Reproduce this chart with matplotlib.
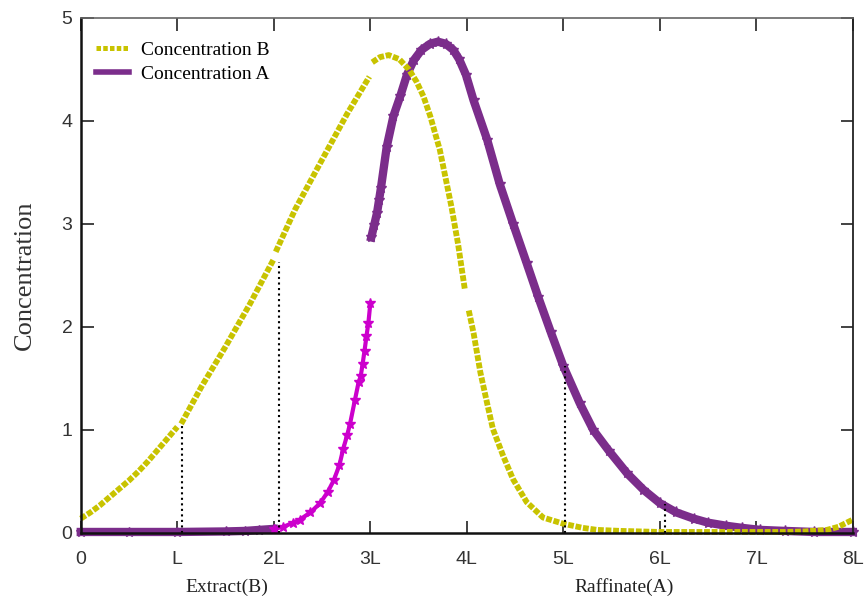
import matplotlib.pyplot as plt
from matplotlib.lines import Line2D
import numpy as np

# couleurs
col_b = '#C8C300'
col_a = '#7B2D8B'
col_mag = '#CC00CC'

# Concentration B : segments separes aux frontieres de zones
b_x1 = [0.0, 0.1, 0.2, 0.3, 0.4, 0.5, 0.6, 0.7, 0.8, 0.9, 1.0]
b_y1 = [0.14, 0.2, 0.27, 0.35, 0.43, 0.51, 0.6, 0.7, 0.81, 0.92, 1.03]
b_x2 = [1.04, 1.25, 1.5, 1.75, 2.0]
b_y2 = [1.06, 1.42, 1.81, 2.22, 2.66]
b_x3 = [2.02, 2.22, 2.48, 2.76, 2.99]
b_y3 = [2.73, 3.14, 3.59, 4.07, 4.43]
b_x4 = [3.02, 3.1, 3.19, 3.3, 3.4, 3.48, 3.55, 3.62, 3.72, 3.84, 3.91, 3.98]
b_y4 = [4.57, 4.62, 4.64, 4.6, 4.5, 4.38, 4.24, 4.05, 3.72, 3.17, 2.8, 2.36]
b_x5 = [4.02, 4.07, 4.14, 4.21, 4.27, 4.38, 4.48, 4.62, 4.79, 5.0, 5.2, 5.35,
        5.6, 6.0, 6.5, 7.0, 7.3, 7.5, 7.73, 7.85, 8.0]
b_y5 = [2.16, 1.94, 1.56, 1.26, 1.01, 0.74, 0.52, 0.3, 0.15, 0.09, 0.05, 0.03,
        0.02, 0.01, 0.01, 0.01, 0.01, 0.015, 0.03, 0.06, 0.13]

# Concentration A
a_x1 = [0.0, 0.5, 1.0, 1.5, 1.7, 1.85, 2.0]
a_y1 = [0.01, 0.01, 0.01, 0.015, 0.02, 0.03, 0.04]
a_x2 = [2.0, 2.1, 2.2, 2.27, 2.38, 2.48, 2.56, 2.62, 2.68, 2.72, 2.76, 2.79,
        2.84, 2.88, 2.9, 2.92, 2.94, 2.96, 2.98, 3.0]
a_y2 = [0.04, 0.06, 0.1, 0.13, 0.2, 0.29, 0.4, 0.51, 0.66, 0.82, 0.95, 1.06,
        1.29, 1.47, 1.52, 1.64, 1.77, 1.91, 2.04, 2.23]
a_x3 = [3.01, 3.04, 3.07, 3.09, 3.11, 3.17, 3.24, 3.31, 3.38, 3.45, 3.53, 3.62,
        3.7, 3.78, 3.86, 3.92, 3.99, 4.07, 4.21, 4.34, 4.48, 4.62, 4.74, 4.87,
        5.0, 5.17, 5.31, 5.47, 5.66, 5.83, 6.0, 6.17, 6.35, 6.5, 6.69, 6.85,
        7.04, 7.3, 7.6, 8.0]
a_y3 = [2.87, 2.99, 3.11, 3.23, 3.35, 3.75, 4.05, 4.24, 4.45, 4.59, 4.69, 4.75,
        4.77, 4.75, 4.69, 4.6, 4.45, 4.2, 3.82, 3.39, 3.0, 2.62, 2.29, 1.95,
        1.62, 1.26, 1.0, 0.8, 0.58, 0.42, 0.29, 0.2, 0.14, 0.1, 0.07, 0.05,
        0.03, 0.02, 0.01, 0.01]

# lignes verticales pointillees
v_x = [1.05, 2.05, 5.02, 6.05]
v_top = [1.06, 2.63, 1.62, 0.28]

xticks = [0, 1, 2, 3, 4, 5, 6, 7, 8]
xlabels = ['0', 'L', '2L', '3L', '4L', '5L', '6L', '7L', '8L']
yticks = [0, 1, 2, 3, 4, 5]

fig = plt.figure(figsize=(8.65, 5.98), dpi=100)
ax = fig.add_axes([0.0934, 0.1087, 0.8926, 0.8612])

# courbe A
ax.plot(a_x1, a_y1, '-', color=col_a, lw=6, marker='*', ms=7, clip_on=False)
ax.plot(a_x2, a_y2, '-', color=col_mag, lw=3, marker='*', ms=7, clip_on=False)
ax.plot(a_x3, a_y3, '-', color=col_a, lw=6, marker='*', ms=8, clip_on=False)

# courbe B (pointilles epais)
for bx, by in [(b_x1, b_y1), (b_x2, b_y2), (b_x3, b_y3), (b_x4, b_y4), (b_x5, b_y5)]:
    ax.plot(bx, by, color=col_b, lw=4.2, dashes=(1.0, 0.3),
            dash_capstyle='butt', clip_on=False)

for vx, vt in zip(v_x, v_top):
    ax.plot([vx, vx], [0, vt], ':', color='black', lw=1.5)

ax.set_xlim(0, 8)
ax.set_ylim(0, 5)
ax.set_xticks(xticks)
ax.set_xticklabels(xlabels)
ax.set_yticks(yticks)
ax.tick_params(direction='in', length=9, width=1.2, top=True, right=True,
               labelsize=14, colors='#222222')
ax.tick_params(axis='x', pad=13)
ax.tick_params(axis='y', pad=6)
for lab in ax.get_xticklabels() + ax.get_yticklabels():
    lab.set_fontfamily('Liberation Sans')
    lab.set_color('#333333')

for s in ['left', 'bottom']:
    ax.spines[s].set_linewidth(1.8)
    ax.spines[s].set_color('#111111')
ax.spines['right'].set_linewidth(1.3)
ax.spines['right'].set_color('#222222')
ax.spines['top'].set_linewidth(1.2)
ax.spines['top'].set_color('#666666')

ax.set_ylabel('Concentration', fontfamily='Liberation Serif', fontsize=19,
              color='#333333')
ax.yaxis.set_label_coords(-0.058, 0.5)

tr = ax.get_xaxis_transform()
ax.text(1.51, -0.105, 'Extract(B)', transform=tr, ha='center', va='center',
        fontfamily='Liberation Serif', fontsize=14, color='#222222')
ax.text(5.63, -0.105, 'Raffinate(A)', transform=tr, ha='center', va='center',
        fontfamily='Liberation Serif', fontsize=14, color='#222222')

handles = [Line2D([], [], color=col_b, lw=3.6, dashes=(0.9, 0.45),
                  dash_capstyle='butt'),
           Line2D([], [], color=col_a, lw=4)]
ax.legend(handles, ['Concentration B', 'Concentration A'], loc='upper left',
          bbox_to_anchor=(0.01, 0.97), frameon=False, handlelength=1.7,
          handletextpad=0.6, labelspacing=0.35, borderaxespad=0,
          prop={'family': 'Liberation Serif', 'size': 14})

fig.savefig('out.png', dpi=100)
